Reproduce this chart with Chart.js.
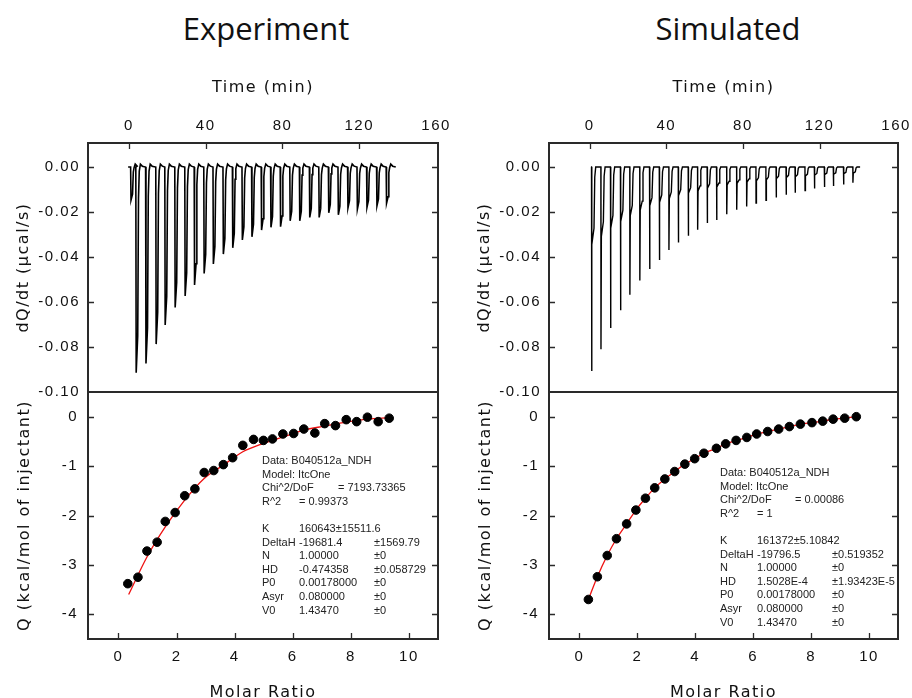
<!DOCTYPE html>
<html>
<head>
<meta charset="utf-8">
<script src="https://cdn.jsdelivr.net/npm/chart.js@4.4.1/dist/chart.umd.min.js"></script>
<style>
  html, body { margin: 0; padding: 0; background: #fff; }
  body { width: 912px; height: 698px; position: relative; overflow: hidden; }
  canvas { position: absolute; }
  .titulo { position: absolute; top: 7px; width: 300px; text-align: center;
            font: 31px "Open Sans", sans-serif; line-height: 42px; color: #111; }
</style>
</head>
<body>
<div class="titulo" style="left:116px">Experiment</div>
<div class="titulo" style="left:578px">Simulated</div>
<canvas id="expArriba" width="450" height="345" style="left:0;top:60px"></canvas>
<canvas id="expAbajo" width="450" height="306" style="left:0;top:392px"></canvas>
<canvas id="simArriba" width="450" height="345" style="left:461px;top:60px"></canvas>
<canvas id="simAbajo" width="450" height="306" style="left:461px;top:392px"></canvas>
<script>
// ---- ejes ----
const timeTicks = [0, 40, 80, 120, 160];
const dqTicks = [0.00, -0.02, -0.04, -0.06, -0.08, -0.10];
const qTicks = [0, -1, -2, -3, -4];
const ratioTicks = [0, 2, 4, 6, 8, 10];

// ---- termograma experimental: tiempo de cada inyeccion (min) y profundidad del pico (µcal/s) ----
const expInjTime = [0.9, 3.6, 8.7, 14.0, 18.7, 23.9, 29.1, 34.0, 39.0, 43.8, 49.0, 53.9, 58.9, 63.9, 68.9,
  73.8, 78.8, 83.8, 88.8, 94.0, 98.9, 103.9, 108.9, 113.9, 118.8, 123.8, 129.0, 134.0];
const expPeak = [-0.0147, -0.0914, -0.0873, -0.0787, -0.0702, -0.0624, -0.0573, -0.0524, -0.0473, -0.0431,
  -0.0387, -0.0359, -0.0324, -0.0310, -0.0280, -0.0268, -0.0265, -0.0239, -0.0239, -0.0224, -0.0224,
  -0.0203, -0.0212, -0.0182, -0.0188, -0.0179, -0.0173, -0.0161];

// ---- termograma simulado ----
const simInjTime = [0.9, 5.8, 10.8, 16.0, 20.9, 26.1, 31.2, 36.3, 41.3, 46.2, 51.4, 56.3, 61.3, 66.2,
  71.5, 76.7, 81.9, 86.8, 92.0, 97.3, 102.5, 107.2, 112.4, 117.3, 122.5, 127.2, 132.5, 137.4];
const simPeak = [-0.0907, -0.0810, -0.0715, -0.0637, -0.0568, -0.0504, -0.0453, -0.0413, -0.0369, -0.0335,
  -0.0305, -0.0279, -0.0249, -0.0235, -0.0210, -0.0190, -0.0175, -0.0160, -0.0148, -0.0135, -0.0123,
  -0.0114, -0.0104, -0.0095, -0.0089, -0.0084, -0.0077, -0.0070];

// ---- isoterma experimental ----
const expRatio = [0.32, 0.67, 0.98, 1.33, 1.61, 1.95, 2.28, 2.63, 2.95, 3.28, 3.61, 3.93, 4.28, 4.65,
  4.99, 5.30, 5.66, 6.03, 6.38, 6.76, 7.10, 7.47, 7.84, 8.20, 8.57, 8.94, 9.32];
const expQ = [-3.38, -3.25, -2.72, -2.54, -2.12, -1.94, -1.60, -1.46, -1.13, -1.09, -0.97, -0.83, -0.58,
  -0.46, -0.48, -0.45, -0.35, -0.34, -0.25, -0.33, -0.14, -0.18, -0.06, -0.10, -0.01, -0.10, -0.03];
const expFitRatio = [0.35, 0.98, 1.61, 2.28, 2.95, 3.61, 4.28, 4.99, 5.66, 6.38, 7.10, 7.84, 8.57, 9.32];
const expFitQ = [-3.60, -2.84, -2.23, -1.69, -1.25, -0.98, -0.71, -0.54, -0.41, -0.27, -0.19, -0.11, -0.05, -0.02];

// ---- isoterma simulada ----
const simRatio = [0.31, 0.62, 0.96, 1.28, 1.63, 1.95, 2.28, 2.60, 2.95, 3.29, 3.64, 3.98, 4.30, 4.73,
  5.05, 5.41, 5.78, 6.12, 6.50, 6.88, 7.25, 7.63, 8.03, 8.40, 8.76, 9.16, 9.56];
const simQ = [-3.70, -3.24, -2.81, -2.47, -2.17, -1.89, -1.65, -1.44, -1.26, -1.11, -0.96, -0.85, -0.74,
  -0.64, -0.55, -0.48, -0.42, -0.35, -0.30, -0.25, -0.20, -0.15, -0.12, -0.09, -0.05, -0.03, 0.00];

// ---- textos del ajuste (columnas: nombre, valor, "=" largo, error) ----
const expNotas = [
  ["Data: B040512a_NDH", "", "", ""],
  ["Model: ItcOne", "", "", ""],
  ["Chi^2/DoF", "", "= 7193.73365", ""],
  ["R^2", "= 0.99373", "", ""],
  ["", "", "", ""],
  ["K", "160643\u00b115511.6", "", ""],
  ["DeltaH", "-19681.4", "", "\u00b11569.79"],
  ["N", "1.00000", "", "\u00b10"],
  ["HD", "-0.474358", "", "\u00b10.058729"],
  ["P0", "0.00178000", "", "\u00b10"],
  ["Asyr", "0.080000", "", "\u00b10"],
  ["V0", "1.43470", "", "\u00b10"],
];
const simNotas = [
  ["Data: B040512a_NDH", "", "", ""],
  ["Model: ItcOne", "", "", ""],
  ["Chi^2/DoF", "", "= 0.00086", ""],
  ["R^2", "= 1", "", ""],
  ["", "", "", ""],
  ["K", "161372\u00b15.10842", "", ""],
  ["DeltaH", "-19796.5", "", "\u00b10.519352"],
  ["N", "1.00000", "", "\u00b10"],
  ["HD", "1.5028E-4", "", "\u00b11.93423E-5"],
  ["P0", "0.00178000", "", "\u00b10"],
  ["Asyr", "0.080000", "", "\u00b10"],
  ["V0", "1.43470", "", "\u00b10"],
];

// forma de cada pico: [dt (min), fraccion del pico, desplazamiento]
const formaExp = [[0, 0, 0], [0.2, 1, 0], [1.0, 0.82, 0], [1.4, 0.15, 0], [1.8, 0.02, 0], [2.4, 0, 0.0013], [3.4, 0, 0.0004]];
const formaSim = [[0, 0, 0], [0.05, 1, 0], [0.25, 0.38, 0], [1.3, 0.3, 0], [1.7, 0.05, 0], [2.2, 0, 0]];

Chart.defaults.font.family = "'Liberation Sans', Arial, sans-serif";
Chart.defaults.font.size = 15;
Chart.defaults.color = "#111";

function trazo(tiempos, picos, forma, inicio, fin) {
  const pts = [{ x: inicio, y: 0 }];
  tiempos.forEach((t, i) => {
    forma.forEach(([dt, f, d]) => pts.push({ x: t + dt, y: picos[i] * f + d }));
  });
  pts.push({ x: fin, y: 0 });
  return pts;
}

// sin relleno extra: el area del grafico queda fija
function sinRelleno(s) {
  s.paddingTop = 0; s.paddingBottom = 0; s.paddingLeft = 0; s.paddingRight = 0;
}

// marco, ticks hacia dentro y espaciado de letras
const marco = {
  id: "marco",
  beforeDraw(chart) { chart.ctx.letterSpacing = "1.5px"; },
  beforeDatasetsDraw(chart) { chart.ctx.letterSpacing = "0px"; },
  afterDraw(chart, args, opts) {
    const { ctx, chartArea: a, scales } = chart;
    const L = 6;
    ctx.save();
    ctx.letterSpacing = "0px";
    ctx.strokeStyle = "#2a2a2a";
    ctx.lineWidth = 1.3;
    ctx.beginPath();
    scales.y.ticks.forEach(t => {
      const y = Math.round(scales.y.getPixelForValue(t.value)) + 0.5;
      if (y < a.top + 2 || y > a.bottom - 2) return;
      ctx.moveTo(a.left, y); ctx.lineTo(a.left + L, y);
      ctx.moveTo(a.right, y); ctx.lineTo(a.right - L, y);
    });
    scales.x.ticks.forEach(t => {
      const x = Math.round(scales.x.getPixelForValue(t.value)) + 0.5;
      if (x < a.left + 2 || x > a.right - 2) return;
      if (opts.lado === "top") { ctx.moveTo(x, a.top); ctx.lineTo(x, a.top + L); }
      else { ctx.moveTo(x, a.bottom); ctx.lineTo(x, a.bottom - L); }
    });
    ctx.stroke();
    ctx.lineWidth = 2;
    ctx.strokeRect(a.left, a.top, a.right - a.left, a.bottom - a.top);
    if (opts.notas) {
      ctx.fillStyle = "#222";
      ctx.font = "11px 'Liberation Sans', Arial, sans-serif";
      ctx.textBaseline = "middle";
      opts.notas.forEach((fila, i) => {
        fila.forEach((txt, c) => {
          if (txt) ctx.fillText(txt, a.left + opts.cols[c], a.top + opts.y0 + i * 13.6);
        });
      });
    }
    ctx.restore();
  }
};

const tituloFuente = { family: "'DejaVu Sans', sans-serif", size: 16 };

function termograma(id, puntos, derecha, grosor) {
  return new Chart(document.getElementById(id), {
    type: "scatter",
    data: {
      datasets: [{
        data: puntos, showLine: true, borderColor: "#000", borderWidth: grosor,
        pointRadius: 0, tension: 0,
      }],
    },
    options: {
      responsive: false, animation: false, events: [],
      layout: { autoPadding: false, padding: { left: 0, right: derecha, top: 0, bottom: 13 } },
      plugins: { legend: { display: false }, tooltip: { enabled: false }, marco: { lado: "top" } },
      scales: {
        x: {
          type: "linear", position: "top", min: -21.3, max: 161,
          afterFit: s => { s.height = 83; sinRelleno(s); },
          afterBuildTicks: s => { s.ticks = timeTicks.map(v => ({ value: v })); },
          grid: { display: false, drawTicks: false }, border: { display: false },
          ticks: { padding: 8, maxRotation: 0, autoSkip: false },
          title: { display: true, text: "Time (min)", font: tituloFuente, padding: { top: 18, bottom: 0 } },
        },
        y: {
          min: -0.10, max: 0.0107,
          afterFit: s => { s.width = 88; sinRelleno(s); },
          afterBuildTicks: s => { s.ticks = dqTicks.map(v => ({ value: v })); },
          grid: { display: false, drawTicks: false }, border: { display: false },
          ticks: { padding: 8, autoSkip: false, callback: v => v.toFixed(2) },
          title: { display: true, text: "dQ/dt (\u00b5cal/s)", font: tituloFuente, padding: { top: 14, bottom: 0 } },
        },
      },
    },
    plugins: [marco],
  });
}

function isoterma(id, xs, ys, fitX, fitY, notas, cols, y0, derecha) {
  return new Chart(document.getElementById(id), {
    type: "scatter",
    data: {
      datasets: [
        {
          data: xs.map((x, i) => ({ x: x, y: ys[i] })),
          pointRadius: 4.3, pointBackgroundColor: "#000", pointBorderColor: "#000", showLine: false,
        },
        {
          data: fitX.map((x, i) => ({ x: x, y: fitY[i] })),
          showLine: true, borderColor: "#ee1111", borderWidth: 1.3, pointRadius: 0,
          cubicInterpolationMode: "monotone",
        },
      ],
    },
    options: {
      responsive: false, animation: false, events: [],
      layout: { autoPadding: false, padding: { left: 0, right: derecha, top: 0, bottom: 0 } },
      plugins: {
        legend: { display: false }, tooltip: { enabled: false },
        marco: { lado: "bottom", notas: notas, cols: cols, y0: y0 },
      },
      scales: {
        x: {
          type: "linear", position: "bottom", min: -1.05, max: 11,
          afterFit: s => { s.height = 59; sinRelleno(s); },
          afterBuildTicks: s => { s.ticks = ratioTicks.map(v => ({ value: v })); },
          grid: { display: false, drawTicks: false }, border: { display: false },
          ticks: { padding: 9, maxRotation: 0, autoSkip: false },
          title: { display: true, text: "Molar Ratio", font: tituloFuente, padding: { top: 0, bottom: -4 } },
        },
        y: {
          min: -4.5, max: 0.5,
          afterFit: s => { s.width = 88; sinRelleno(s); },
          afterBuildTicks: s => { s.ticks = qTicks.map(v => ({ value: v })); },
          grid: { display: false, drawTicks: false }, border: { display: false },
          ticks: { padding: 10, autoSkip: false },
          title: { display: true, text: "Q (kcal/mol of injectant)", font: tituloFuente, padding: { top: 15, bottom: 0 } },
        },
      },
    },
    plugins: [marco],
  });
}

termograma("expArriba", trazo(expInjTime, expPeak, formaExp, -0.4, 139), 12, 1.6);
termograma("simArriba", trazo(simInjTime, simPeak, formaSim, 0.6, 141.2), 13, 1.4);
isoterma("expAbajo", expRatio, expQ, expFitRatio, expFitQ, expNotas, [174, 211, 250, 286], 69, 12);
isoterma("simAbajo", simRatio, simQ, simRatio, simQ, simNotas, [171, 208, 246, 283], 81, 13);
</script>
</body>
</html>
